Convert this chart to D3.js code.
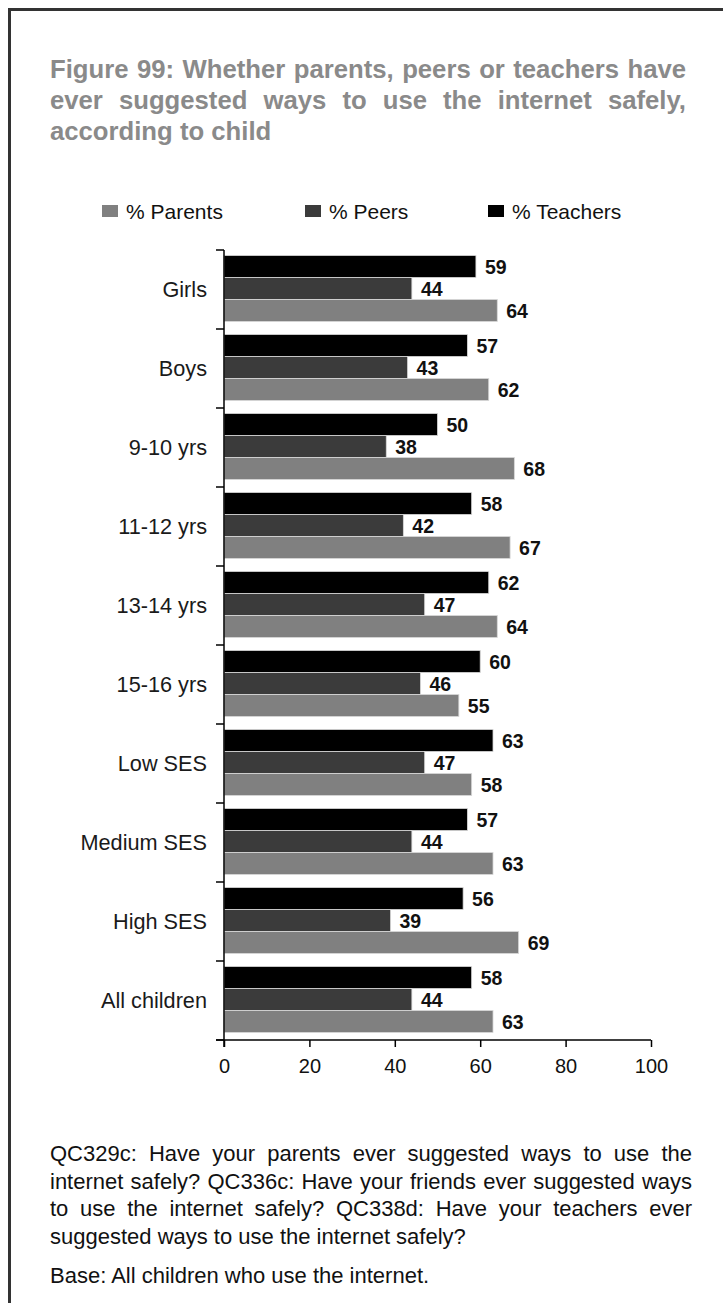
<!DOCTYPE html>
<html><head><meta charset="utf-8">
<script src="https://cdn.jsdelivr.net/npm/d3@7"></script>
<style>
html,body{margin:0;padding:0;background:#fff;}
svg{display:block;font-family:"Liberation Sans",Arial,sans-serif;}
</style></head>
<body>
<svg id="chart" width="723" height="1303"></svg>
<script>
const categories = ["Girls","Boys","9-10 yrs","11-12 yrs","13-14 yrs","15-16 yrs","Low SES","Medium SES","High SES","All children"];
const seriesNames = ["% Teachers","% Peers","% Parents"];
const teachers = [59,57,50,58,62,60,63,57,56,58];
const peers    = [44,43,38,42,47,46,47,44,39,44];
const parents  = [64,62,68,67,64,55,58,63,69,63];
const xTicks = [0,20,40,60,80,100];
const legendOrder = ["% Parents","% Peers","% Teachers"];
const titleLines = ["Figure 99:  Whether parents, peers or teachers have","ever suggested ways to use the internet safely,","according to child"];
const noteLines = ["QC329c: Have your parents ever suggested ways to use the","internet safely? QC336c: Have your friends ever suggested ways","to use the internet safely? QC338d: Have your teachers ever","suggested ways to use the internet safely?"];
const baseLine = "Base: All children who use the internet.";

const colors = {"% Teachers":"#000000","% Peers":"#3b3b3b","% Parents":"#808080"};
const valuesBy = {"% Teachers":teachers,"% Peers":peers,"% Parents":parents};

const svg = d3.select("#chart");

// frame
svg.append("path").attr("d","M9.5,1303 V9.5 H723").attr("fill","none").attr("stroke","#333").attr("stroke-width",3);

// justified text helper
function textLine(str, x0, x1, y, opts, justify){
  const t = svg.append("text").attr("y",y).attr("font-size",opts.size).attr("font-weight",opts.weight||"normal").attr("fill",opts.fill);
  if(!justify){ t.attr("x",x0).text(str); return; }
  const words = str.split(/\s+/);
  const widths = words.map(w=>{ const m = svg.append("text").attr("font-size",opts.size).attr("font-weight",opts.weight||"normal").text(w); const l = m.node().getComputedTextLength(); m.remove(); return l; });
  const total = d3.sum(widths);
  const gap = (x1-x0-total)/(words.length-1);
  let x = x0;
  words.forEach((w,i)=>{ t.append("tspan").attr("x",x).text(w + (i<words.length-1?" ":"")); x += widths[i]+gap; });
}

const titleStyle = {size:25.7, weight:"bold", fill:"#8a8a8a"};
titleLines.forEach((l,i)=>textLine(l,50,686,78+i*31,titleStyle,i<2));

const noteStyle = {size:22, fill:"#111"};
noteLines.forEach((l,i)=>textLine(l,50,692,1161+i*27.5,noteStyle,i<3));
textLine(baseLine,50,692,1283,noteStyle,false);

// legend
const legendX = {"% Parents":102,"% Peers":305,"% Teachers":488};
legendOrder.forEach(s=>{
  svg.append("rect").attr("x",legendX[s]).attr("y",205).attr("width",16).attr("height",12).attr("fill",colors[s]);
  svg.append("text").attr("x",legendX[s]+24).attr("y",219).attr("font-size",21).attr("fill","#111").text(s);
});

// scales
const x = d3.scaleLinear().domain([0,100]).range([224,651]);
const y = d3.scaleBand().domain(categories).range([250,1040]).paddingInner(0).paddingOuter(0);
const ySub = d3.scaleBand().domain(seriesNames).range([5.5,71.5]);

const g = svg.append("g");
categories.forEach((c,ci)=>{
  seriesNames.forEach(s=>{
    const v = valuesBy[s][ci];
    const yy = y(c)+ySub(s);
    g.append("rect").attr("x",x(0)).attr("y",yy).attr("width",x(v)-x(0)).attr("height",ySub.bandwidth())
      .attr("fill",colors[s]).attr("stroke","#d8d8d8").attr("stroke-width",0.8);
    g.append("text").attr("x",x(v)+9).attr("y",yy+ySub.bandwidth()/2+7).attr("font-size",19.5).attr("font-weight","bold").attr("fill","#111").text(v);
  });
  svg.append("text").attr("x",207).attr("y",y(c)+y.bandwidth()/2+7.5).attr("text-anchor","end").attr("font-size",21.7).attr("fill","#1a1a1a").text(c);
});

// y axis: line with boundary ticks
const yAxisG = svg.append("g");
yAxisG.append("line").attr("x1",224).attr("x2",224).attr("y1",250).attr("y2",1047).attr("stroke","#000").attr("stroke-width",1.5);
const bounds = categories.map(c=>y(c)).concat([y.range()[1]]);
bounds.forEach(b=>yAxisG.append("line").attr("x1",216).attr("x2",224).attr("y1",b).attr("y2",b).attr("stroke","#000").attr("stroke-width",1.5));

// x axis
const xAxis = d3.axisBottom(x).tickValues(xTicks).tickSize(7).tickSizeOuter(0).tickPadding(12);
const xg = svg.append("g").attr("transform","translate(0,1040)").call(xAxis);
xg.select(".domain").attr("d","M216,0H651").attr("stroke","#000").attr("stroke-width",1.5);
xg.selectAll(".tick line").attr("stroke","#000").attr("stroke-width",1.5);
xg.selectAll(".tick text").attr("font-size",20).attr("font-family","Liberation Sans, Arial, sans-serif").attr("fill","#111");
</script>
</body></html>
